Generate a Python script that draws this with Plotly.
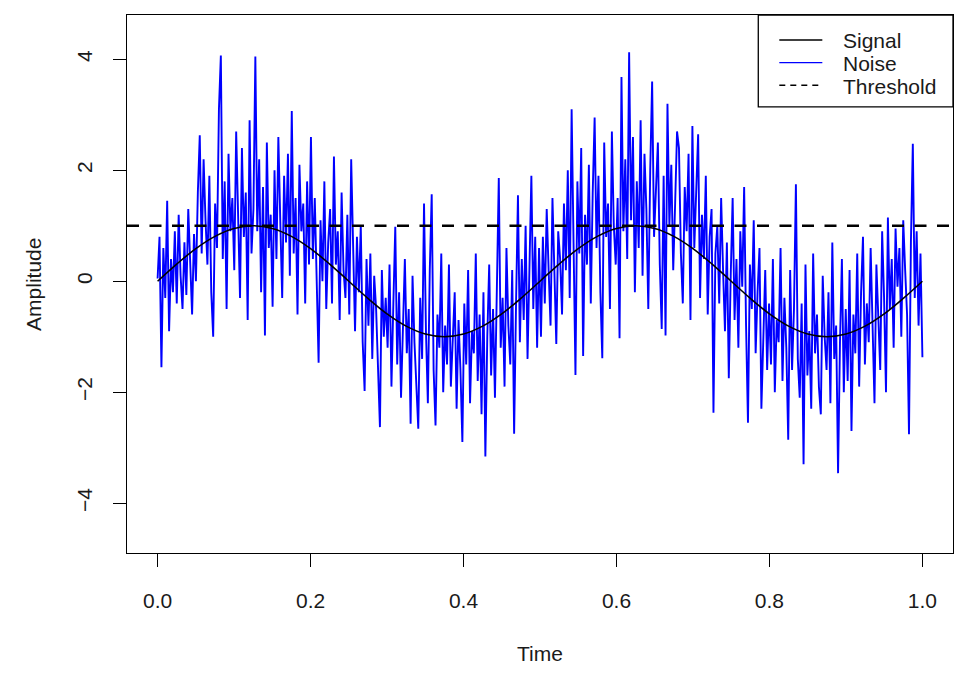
import numpy as np
import plotly.graph_objects as go

# ---- data ----
signal_values = [0.0, 0.309, 0.588, 0.809, 0.951, 1.0, 0.951, 0.809, 0.588, 0.309,
                 0.0, -0.309, -0.588, -0.809, -0.951, -1.0, -0.951, -0.809, -0.588, -0.309,
                 0.0, 0.309, 0.588, 0.809, 0.951, 1.0, 0.951, 0.809, 0.588, 0.309,
                 0.0, -0.309, -0.588, -0.809, -0.951, -1.0, -0.951, -0.809, -0.588, -0.309, 0.0]

noise_values = [
    0.05, 0.8, -1.55, 0.6, -0.3, 1.45, -0.9, 0.4, -0.2, 0.9,
    -0.4, 1.2, 0.1, -0.5, 0.7, -0.25, 1.3, 0.2, -0.6, 0.85,
    0.0, 1.6, 2.63, 0.5, 2.2, 1.1, 0.3, 1.9, -0.2, -1.0,
    1.4, 0.6, 3.1, 4.07, 0.4, 1.8, -0.5, 2.3, 0.9, 1.5,
    0.2, 2.7, 1.0, -0.3, 2.4, 0.8, 1.6, -0.7, 2.9, 0.5,
    1.3, 4.05, 0.9, 2.2, -0.2, 1.7, -0.98, 2.5, 0.6, 1.2,
    -0.46, 2.0, 0.4, 2.6, 1.1, -0.3, 1.9, 0.7, 2.3, 0.1,
    3.07, 0.5, 1.5, -0.6, 2.1, 0.9, 1.4, -0.4, 1.8, 0.3,
    2.6, 0.4, 1.5, -0.2, -1.47, 1.1, 0.0, 1.8, -0.5, 0.7,
    1.3, -0.4, 2.25, 0.3, 0.9, -0.7, 1.6, 0.2, -0.3, 1.2,
    -0.6, 2.2, 0.5, -0.9, 0.8, -0.2, 1.0, -1.1, -1.98, 0.4,
    -0.8, 0.5, -1.4, 0.1, -0.5, -1.7, -2.63, 0.2, -1.0, -0.3,
    -1.2, 0.3, -1.9, -0.4, 0.98, -1.5, -0.2, -2.1, -0.7, 0.4,
    -1.3, -0.5, -2.57, 0.1, -1.1, -1.8, -2.66, -0.3, -1.4, 1.4,
    -0.9, -2.2, 0.2, 1.57, -1.6, -2.6, -0.6, -1.2, 0.5, -2.0,
    -0.8, -1.5, 0.3, -1.9, -1.0, -0.2, -2.3, -0.7, -1.6, -2.9,
    -0.4, -1.5, 0.2, -2.2, -0.9, -1.3, 0.5, -1.8, -0.6, -2.4,
    -0.2, -3.16, -1.0, 0.3, -1.7, -0.5, -2.1, 0.1, 1.86, -1.2,
    -0.3, -1.9, 0.6, -0.8, -1.5, 0.2, -2.75, -0.4, 1.55, -1.1,
    0.4, -0.7, 1.0, -1.4, 0.1, 1.9, -0.5, 0.8, -1.2, 0.6,
    -1.0, 0.8, -0.4, 1.3, 0.2, -0.8, 1.5, 0.1, -1.13, 0.9,
    0.4, -0.6, 1.4, 0.2, 2.0, -0.3, 3.1, 0.7, -1.69, 1.8,
    0.5, 2.4, -1.35, 1.2, 0.3, 2.1, -0.4, 1.6, 2.95, 0.6,
    1.9, -0.2, -1.39, 2.5, 0.8, 1.4, -0.5, 2.7, 1.0, 0.3,
    1.5, -1.03, 3.68, 0.9, 2.2, 0.4, 4.13, 1.1, 2.6, -0.2,
    1.8, 0.6, 2.9, 0.1, 2.3, 1.3, -0.5, 2.0, 3.6, 0.8,
    1.6, 2.5, 0.3, -0.86, 1.9, -0.98, 3.2, 1.0, 2.1, 0.2,
    1.4, 2.7, 2.4, 0.5, -0.4, 1.7, 0.9, 2.3, -0.7, 2.8,
    0.6, 1.8, 2.65, -0.3, 1.2, 0.4, 1.9, -0.6, 0.8, 1.3,
    -2.37, 0.5, 1.0, -0.4, 1.5, 0.2, -0.9, 0.7, -1.75, 0.1,
    1.5, -0.7, 0.4, -1.2, 0.9, -0.1, 1.7, -0.8, -2.55, 0.3,
    -0.5, 1.1, -1.3, -0.2, 0.6, -2.3, -0.9, 0.2, -1.6, -0.4,
    -1.5, 0.4, -2.0, -0.7, -1.1, 0.6, -1.8, -0.3, -1.2, -2.86,
    0.2, -1.6, -0.5, 1.75, -1.4, -2.1, -0.4, -3.3, 0.3, -1.7,
    -0.9, -2.3, 0.5, -1.3, -0.6, -1.9, -2.4, 0.1, -1.0, -1.6,
    -0.2, -2.2, 0.7, -1.4, -0.8, -3.46, -1.1, 0.4, -2.0, -0.5,
    -1.8, 0.2, -2.7, -0.6, -1.3, 0.5, -1.9, -0.2, 0.8, -1.5,
    -0.4, -1.1, 0.6, -0.9, -2.2, 0.3, -0.7, -1.6, 0.9, -0.3,
    -2.0, 1.15, -0.5, 0.4, -1.2, 0.95, -0.1, 0.6, -1.0, 1.1,
    0.2, -0.6, -2.76, 0.7, 2.48, -0.3, 0.9, -0.8, 0.5, -1.37,
]

threshold = 1.0
x_ticks = [0.0, 0.2, 0.4, 0.6, 0.8, 1.0]
y_ticks = [-4, -2, 0, 2, 4]
legend_labels = ["Signal", "Noise", "Threshold"]

signal_time = np.linspace(0.0, 1.0, len(signal_values))
noise_time = np.linspace(0.0, 1.0, len(noise_values))

FONT = "Liberation Sans, Arial, sans-serif"
TXT = "#1a1a1a"

# figure pixel frame (page offset of 8px by browser body margin compensated)
OFF = 8
W, H = 974 - 2 * OFF, 684 - 2 * OFF
L, R, T, B = 127.1 - OFF, 952.6 - OFF, 15.0 - OFF, 553.3 - OFF


def px(p):
    return (p - OFF - L) / (R - L)


def py(p):
    return (B - (p - OFF)) / (B - T)


fig = go.Figure()
fig.add_trace(go.Scatter(x=noise_time, y=noise_values, mode="lines", name="Noise",
                         line=dict(color="#0000ff", width=1.9), showlegend=False))
fig.add_trace(go.Scatter(x=signal_time, y=signal_values, mode="lines", name="Signal",
                         line=dict(color="black", width=1.6, shape="spline"),
                         showlegend=False))

shapes = [
    # threshold line (abline)
    dict(type="line", xref="paper", yref="y", x0=0, x1=1, y0=threshold, y1=threshold,
         line=dict(color="black", width=2.6, dash="12px,10.5px"), layer="above"),
    # legend box
    dict(type="rect", xref="paper", yref="paper",
         x0=px(758), x1=1.0, y0=py(107), y1=1.0,
         line=dict(color="black", width=1.3), fillcolor="white", layer="above"),
]
legend_styles = [dict(color="black", width=1.4),
                 dict(color="#0000ff", width=1.4),
                 dict(color="black", width=1.4, dash="6px,5px")]
row_y = [40, 62.7, 85.3]
annotations = []
for lab, sty, ry in zip(legend_labels, legend_styles, row_y):
    shapes.append(dict(type="line", xref="paper", yref="paper",
                       x0=px(779), x1=px(822), y0=py(ry), y1=py(ry),
                       line=sty, layer="above"))
    annotations.append(dict(text=lab, xref="paper", yref="paper",
                            x=px(841), y=py(ry + 1), xanchor="left", yanchor="middle",
                            showarrow=False, font=dict(size=21, color=TXT)))

annotations += [
    dict(text="Time", xref="paper", yref="paper", x=0.5, y=0,
         xanchor="center", yanchor="middle", yshift=-(654 - 553.3),
         showarrow=False, font=dict(size=21, color=TXT)),
    dict(text="Amplitude", xref="paper", yref="paper", x=0, y=0.5,
         xanchor="center", yanchor="middle", xshift=-(127.1 - 33),
         textangle=-90, showarrow=False, font=dict(size=21, color=TXT)),
]

fig.update_layout(
    width=W, height=H,
    margin=dict(l=L, r=W - R, t=T, b=H - B),
    paper_bgcolor="white", plot_bgcolor="white",
    font=dict(family=FONT, size=21, color=TXT),
    showlegend=False,
    shapes=shapes,
    annotations=annotations,
    xaxis=dict(range=[-0.04, 1.04], tickvals=x_ticks, tickformat=".1f",
               showgrid=False, zeroline=False, showline=True, linecolor="black",
               linewidth=1.3, mirror=True, ticks="outside", ticklen=13,
               tickwidth=1.3, tickcolor="black", ticklabelstandoff=16),
    yaxis=dict(range=[-4.90, 4.80], tickvals=y_ticks, tickangle=-90,
               showgrid=False, zeroline=False, showline=True, linecolor="black",
               linewidth=1.3, mirror=True, ticks="outside", ticklen=13,
               tickwidth=1.3, tickcolor="black", ticklabelstandoff=12),
)

fig.write_html("out.html")
